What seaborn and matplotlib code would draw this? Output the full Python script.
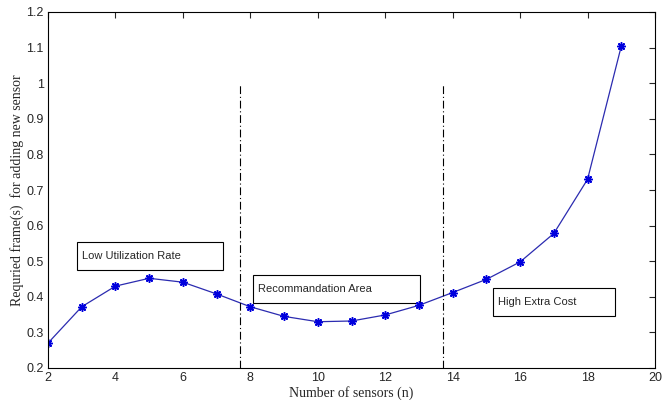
import matplotlib
matplotlib.use("Agg")
import matplotlib.pyplot as plt
import seaborn as sns
import pandas as pd
from matplotlib.patches import Rectangle

sensors = [2, 3, 4, 5, 6, 7, 8, 9, 10, 11, 12, 13, 14, 15, 16, 17, 18, 19]
frames = [0.27, 0.372, 0.430, 0.452, 0.441, 0.408, 0.372, 0.345, 0.330, 0.332,
          0.349, 0.376, 0.412, 0.449, 0.498, 0.578, 0.730, 1.104]
x_ticks = [2, 4, 6, 8, 10, 12, 14, 16, 18, 20]
y_ticks = [0.2, 0.3, 0.4, 0.5, 0.6, 0.7, 0.8, 0.9, 1.0, 1.1, 1.2]
y_tick_labels = ["0.2", "0.3", "0.4", "0.5", "0.6", "0.7", "0.8", "0.9", "1", "1.1", "1.2"]
divider_x = [7.7, 13.7]
boxes = [("Low Utilization Rate", 2.86, 0.475, 7.19, 0.554),
         ("Recommandation Area", 8.08, 0.383, 13.03, 0.461),
         ("High Extra Cost", 15.2, 0.346, 18.8, 0.425)]

sns.set_style("white")
plt.rcParams['font.family'] = ['Liberation Sans', 'DejaVu Sans']

df = pd.DataFrame({"n": sensors, "frames": frames})

fig = plt.figure(figsize=(6.65, 4.0), dpi=100)
ax = fig.add_axes([48/665, 1-368/400, (655-48)/665, (368-12)/400])

sns.lineplot(data=df, x="n", y="frames", ax=ax, color="#2b2bb0", linewidth=0.9,
             marker=(8, 2, 0), markersize=6, markeredgewidth=1.1,
             markeredgecolor="#0000dd", markerfacecolor="#0000dd")

for xv in divider_x:
    ax.plot([xv, xv], [0.2, 1.0], color="black", linestyle=(0, (7, 2.5, 1, 2.5)),
            linewidth=0.8)

for label, x0, y0, x1, y1 in boxes:
    ax.add_patch(Rectangle((x0, y0), x1 - x0, y1 - y0, fill=False,
                           edgecolor="black", linewidth=0.8))
    ax.text(x0 + 0.15, (y0 + y1) / 2, label, fontsize=8, va="center", ha="left")

ax.set_xlim(2, 20)
ax.set_ylim(0.2, 1.2)
ax.set_xticks(x_ticks)
ax.set_yticks(y_ticks)
ax.set_yticklabels(y_tick_labels)
ax.tick_params(direction="in", top=True, right=True, length=4, width=0.8,
               labelsize=9, pad=3)
for s in ax.spines.values():
    s.set_visible(True)
    s.set_color("black")
    s.set_linewidth(0.8)

ax.set_xlabel("Number of sensors (n)", family="Liberation Serif", fontsize=10, labelpad=1)
ax.set_ylabel("Requried frame(s)  for adding new sensor", family="Liberation Serif",
              fontsize=10, labelpad=2)

fig.savefig("out.png", dpi=100)
